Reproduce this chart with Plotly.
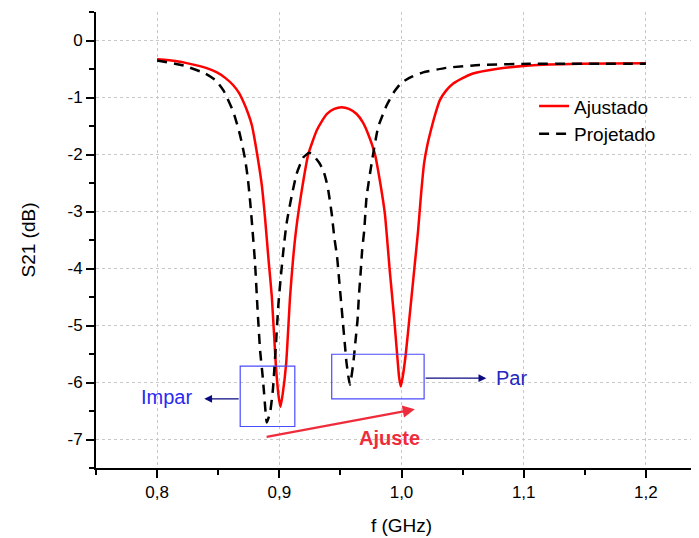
import plotly.graph_objects as go

# ---- data ----
ajustado_f = [0.800, 0.815, 0.827, 0.840, 0.849, 0.856, 0.8625, 0.867, 0.8707, 0.8745,
              0.8776, 0.8816, 0.8857, 0.8884, 0.8912, 0.8939, 0.8971, 0.8992, 0.9009, 0.9028,
              0.9056, 0.9088, 0.9110, 0.9137, 0.9184, 0.9238, 0.9306, 0.9350, 0.9388, 0.9450,
              0.9510, 0.9570, 0.9633, 0.9685, 0.9727, 0.9782, 0.9823, 0.9864, 0.9904, 0.9937,
              0.9964, 0.9980, 0.9994, 1.0010, 1.0035, 1.0068, 1.0109, 1.0136, 1.0160, 1.0185,
              1.0210, 1.0240, 1.0275, 1.0313, 1.0365, 1.0421, 1.0500, 1.0585, 1.0776, 1.1047,
              1.1455, 1.2000]
ajustado_s21 = [-0.33, -0.36, -0.41, -0.48, -0.56, -0.66, -0.79, -0.92, -1.08, -1.28,
                -1.49, -1.96, -2.54, -3.13, -3.85, -4.50, -5.67, -6.20, -6.43, -6.20,
                -5.67, -4.50, -3.90, -3.33, -2.63, -1.99, -1.58, -1.41, -1.29, -1.20,
                -1.17, -1.20, -1.29, -1.44, -1.64, -1.99, -2.46, -3.04, -4.04, -4.80,
                -5.50, -5.90, -6.07, -5.90, -5.50, -4.80, -3.92, -3.33, -2.70, -2.15,
                -1.85, -1.58, -1.30, -1.05, -0.88, -0.76, -0.66, -0.58, -0.50, -0.44,
                -0.41, -0.40]

projetado_f = [0.800, 0.8218, 0.8394, 0.848, 0.8544, 0.8625, 0.868, 0.872, 0.8743, 0.8762,
               0.8778, 0.8802, 0.8821, 0.8843, 0.8862, 0.8876, 0.8898, 0.8925, 0.8947, 0.8971,
               0.8993, 0.9012, 0.9039, 0.9061, 0.9102, 0.9143, 0.9197, 0.9246, 0.9292, 0.9328,
               0.9360, 0.9382, 0.9401, 0.9429, 0.9450, 0.9473, 0.9490, 0.9506, 0.9519, 0.9536,
               0.9551, 0.9578, 0.9605, 0.9624, 0.9640, 0.9651, 0.9665, 0.9678, 0.9695, 0.9714,
               0.9755, 0.9809, 0.9878, 0.9940, 1.0000, 1.0090, 1.0177, 1.0367, 1.0639, 1.1047,
               1.2000]
projetado_s21 = [-0.35, -0.44, -0.58, -0.70, -0.88, -1.26, -1.67, -2.08, -2.43, -2.84,
                 -3.25, -3.92, -4.68, -5.44, -5.85, -6.20, -6.70, -6.52, -6.14, -5.38,
                 -4.62, -4.15, -3.57, -3.19, -2.72, -2.33, -2.05, -1.97, -2.05, -2.15,
                 -2.28, -2.44, -2.63, -3.04, -3.45, -3.80, -4.21, -4.59, -4.91, -5.32,
                 -5.67, -6.04, -5.67, -5.26, -4.91, -4.50, -4.09, -3.68, -3.33, -2.75,
                 -2.16, -1.52, -1.14, -0.90, -0.74, -0.63, -0.56, -0.48, -0.43, -0.41,
                 -0.41]

x_tickvals = [0.8, 0.9, 1.0, 1.1, 1.2]
x_ticktext = ["0,8", "0,9", "1,0", "1,1", "1,2"]
y_tickvals = [0, -1, -2, -3, -4, -5, -6, -7]
y_ticktext = ["0", "-1", "-2", "-3", "-4", "-5", "-6", "-7"]

# annotation boxes (data coordinates)
impar_box = [0.868, 0.9127, -6.772, -5.714]   # x0, x1, y0, y1
par_box = [0.9429, 1.0185, -6.286, -5.504]

FONT = "Liberation Sans, Arial, sans-serif"

fig = go.Figure()
fig.add_trace(go.Scatter(x=ajustado_f, y=ajustado_s21, mode="lines", name="Ajustado",
                         line=dict(color="#ff0000", width=2.5, shape="spline", smoothing=0.5)))
fig.add_trace(go.Scatter(x=projetado_f, y=projetado_s21, mode="lines", name="Projetado",
                         line=dict(color="#000000", width=2.5, dash="10px,7px",
                                   shape="spline", smoothing=0.5)))

# boxes
for b in (impar_box, par_box):
    fig.add_shape(type="rect", xref="x", yref="y", x0=b[0], x1=b[1], y0=b[2], y1=b[3],
                  line=dict(color="#4a4aff", width=1.2), fillcolor="rgba(0,0,0,0)")

# arrows
fig.add_annotation(x=0.8386, y=-6.286, ax=impar_box[0], ay=-6.286, xref="x", yref="y",
                   axref="x", ayref="y", text="", showarrow=True, arrowhead=2,
                   arrowsize=1.2, arrowwidth=1.3, arrowcolor="#0a0a80")
fig.add_annotation(x=1.0694, y=-5.924, ax=par_box[1], ay=-5.924, xref="x", yref="y",
                   axref="x", ayref="y", text="", showarrow=True, arrowhead=2,
                   arrowsize=1.2, arrowwidth=1.3, arrowcolor="#0a0a80")
fig.add_annotation(x=1.0109, y=-6.47, ax=0.8884, ay=-6.96, xref="x", yref="y",
                   axref="x", ayref="y", text="", showarrow=True, arrowhead=2,
                   arrowsize=1.1, arrowwidth=2.2, arrowcolor="#ee2c3c")

# texts
fig.add_annotation(x=0.8304, y=-6.25, xref="x", yref="y", text="Impar", showarrow=False,
                   xanchor="right", yanchor="middle",
                   font=dict(family=FONT, size=20, color="#2a2af0"))
fig.add_annotation(x=1.0755, y=-5.92, xref="x", yref="y", text="Par", showarrow=False,
                   xanchor="left", yanchor="middle",
                   font=dict(family=FONT, size=20, color="#2626c0"))
fig.add_annotation(x=0.9905, y=-6.98, xref="x", yref="y", text="<b>Ajuste</b>",
                   showarrow=False, xanchor="center", yanchor="middle",
                   font=dict(family=FONT, size=20, color="#ee2c3c"))

axis_common = dict(
    showline=True, linecolor="#000000", linewidth=2,
    ticks="outside", tickcolor="#000000", tickwidth=2, ticklen=8,
    showgrid=True, gridcolor="#c8c8c8", griddash="dot", gridwidth=1,
    zeroline=False, mirror=False, automargin=False,
    tickfont=dict(family=FONT, size=17, color="#000000"),
)

fig.update_xaxes(range=[0.75, 1.25], tickvals=x_tickvals, ticktext=x_ticktext,
                 minor=dict(ticks="outside", dtick=0.05, tick0=0.75, ticklen=5,
                            tickwidth=2, tickcolor="#000000", showgrid=False),
                 title=dict(text="f (GHz)", font=dict(family=FONT, size=19, color="#000000"),
                            standoff=17),
                 **axis_common)
fig.update_yaxes(range=[-7.5, 0.5], tickvals=y_tickvals, ticktext=y_ticktext,
                 minor=dict(ticks="outside", dtick=0.5, tick0=0, ticklen=5,
                            tickwidth=2, tickcolor="#000000", showgrid=False),
                 title=dict(text="S21 (dB)", font=dict(family=FONT, size=19, color="#000000"),
                            standoff=27),
                 **axis_common)

fig.update_layout(
    width=699, height=538,
    margin=dict(l=88, r=0, t=4, b=77.5, pad=0),
    paper_bgcolor="#ffffff", plot_bgcolor="#ffffff",
    showlegend=True,
    legend=dict(x=0.717, y=0.835, xanchor="left", yanchor="top",
                bgcolor="rgba(0,0,0,0)", borderwidth=0,
                font=dict(family=FONT, size=19, color="#000000"),
                tracegroupgap=0, itemwidth=30),
    font=dict(family=FONT),
)

fig.write_html("out.html")
